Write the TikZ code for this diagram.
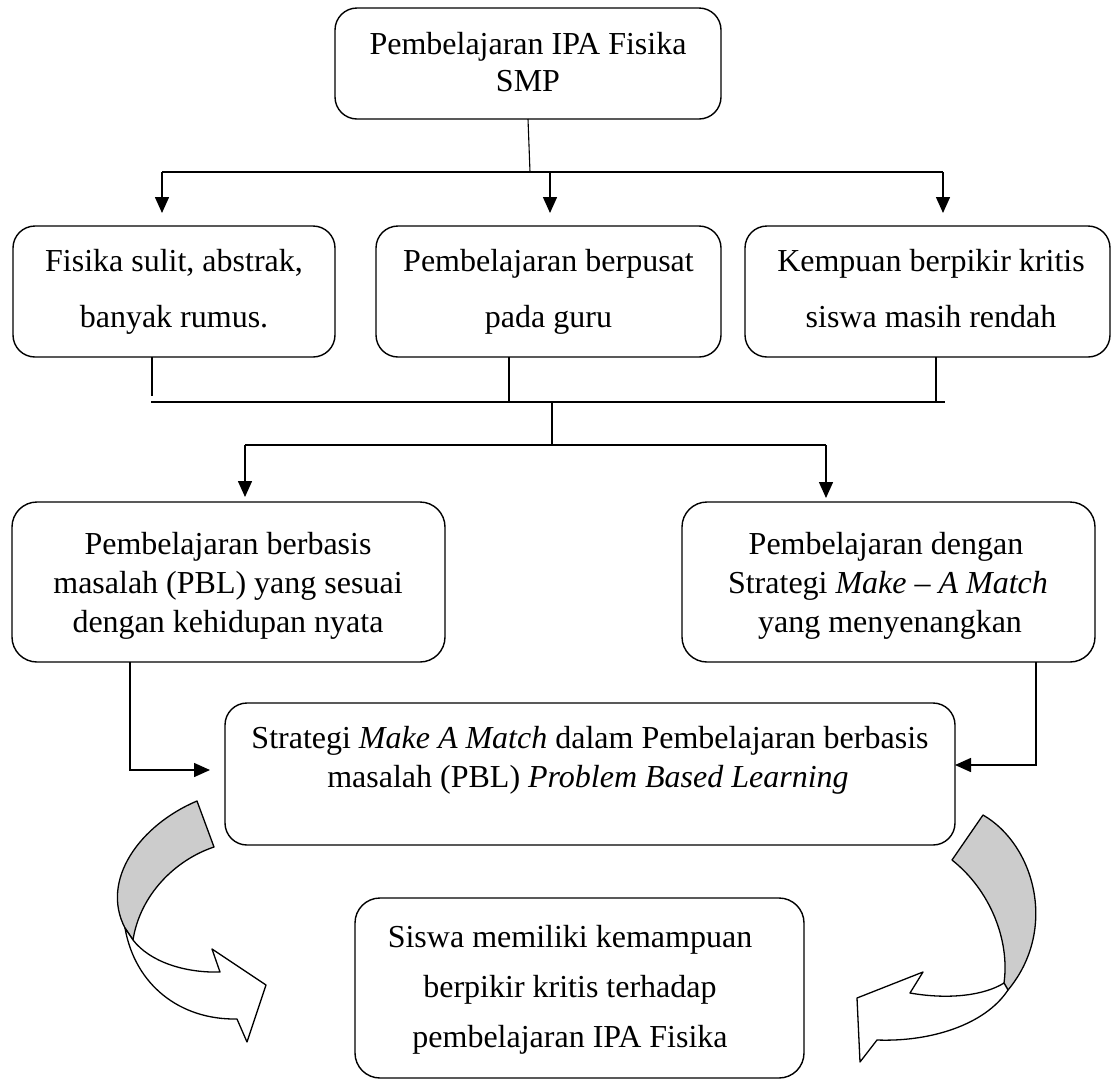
\documentclass[tikz,border=0pt]{standalone}
\usepackage{fontspec}
\setmainfont{Liberation Serif}
\usetikzlibrary{arrows.meta}
\begin{document}
\begin{tikzpicture}[x=1pt,y=-1pt,
  box/.style={draw, line width=1.4pt, rounded corners=22pt, inner sep=0pt, outer sep=0pt},
  txt/.style={anchor=base, inner sep=0pt, font=\fontsize{32}{38}\selectfont},
  con/.style={line width=1.5pt},
  arr/.style={line width=1.5pt, -{Triangle[length=16pt,width=14pt]}},
  ribgray/.style={draw, line width=1.3pt, fill=black!20, line join=round},
  ribwhite/.style={draw, line width=1.3pt, fill=white, line join=round}]
\useasboundingbox (0,0) rectangle (1112,1080);

% boxes
\node[box, minimum width=386pt, minimum height=111pt] (top) at (528,63.5) {};
\node[box, minimum width=322pt, minimum height=131pt] (b1) at (174,291.5) {};
\node[box, minimum width=345pt, minimum height=131pt] (b2) at (548.5,291.5) {};
\node[box, minimum width=365pt, minimum height=131pt] (b3) at (927.5,291.5) {};
\node[box, rounded corners=25pt, minimum width=433pt, minimum height=160pt] (b4) at (228.5,582) {};
\node[box, rounded corners=25pt, minimum width=413pt, minimum height=160pt] (b5) at (888.5,582) {};
\node[box, minimum width=730pt, minimum height=142pt] (b6) at (590,774) {};
\node[box, rounded corners=25pt, minimum width=449pt, minimum height=180pt] (b7) at (579.5,988) {};

% texts
\node[txt] (t0a) at (528,54) {Pembelajaran IPA Fisika};
\node[txt] (t0b) at (528,91) {SMP};
\node[txt] (t1a) at (174,271) {Fisika sulit, abstrak,};
\node[txt] (t1b) at (174,327) {banyak rumus.};
\node[txt] (t2a) at (548.5,271) {Pembelajaran berpusat};
\node[txt] (t2b) at (548.5,327) {pada guru};
\node[txt] (t3a) at (931,271) {Kempuan berpikir kritis};
\node[txt] (t3b) at (931,327) {siswa masih rendah};
\node[txt] (t4a) at (228,554) {Pembelajaran berbasis};
\node[txt] (t4b) at (228,593) {masalah (PBL) yang sesuai};
\node[txt] (t4c) at (228,632) {dengan kehidupan nyata};
\node[txt] (t5a) at (886,554) {Pembelajaran dengan};
\node[txt] (t5b) at (888,593) {Strategi \textit{Make – A Match}};
\node[txt] (t5c) at (890,632) {yang menyenangkan};
\node[txt] (t6a) at (590,748) {Strategi \textit{Make A Match} dalam Pembelajaran berbasis};
\node[txt] (t6b) at (588,787) {masalah (PBL) \textit{Problem Based Learning}};
\node[txt] (t7a) at (570,947) {Siswa memiliki kemampuan};
\node[txt] (t7b) at (570,997) {berpikir kritis terhadap};
\node[txt] (t7c) at (570,1047) {pembelajaran IPA Fisika};

% connectors top level
\coordinate (j1) at (530,172);
\coordinate (hL) at (162,172);
\coordinate (hM) at (550,172);
\coordinate (hR) at (943,172);
\coordinate (a1) at (162,213);
\coordinate (a2) at (550,213);
\coordinate (a3) at (943,213);
\draw[line width=1.1pt] (top.south) -- (j1);
\draw[con] (hL) -- (hR);
\draw[arr] (hL) -- (a1);
\draw[arr] (hM) -- (a2);
\draw[arr] (hR) -- (a3);

% second level
\coordinate (m1) at (152,396);
\coordinate (m2) at (509,402);
\coordinate (m3) at (936,402);
\coordinate (g1) at (151,402);
\coordinate (g2) at (945,402);
\coordinate (n1) at (552,402);
\coordinate (n2) at (552,445);
\coordinate (k1) at (245,445);
\coordinate (k2) at (826,445);
\coordinate (c1) at (245,497);
\coordinate (c2) at (826,498);
\draw[con] (m1 |- b1.south) -- (m1);
\draw[line width=1.1pt] (m2 |- b2.south) -- (m2);
\draw[con] (m3 |- b3.south) -- (m3);
\draw[line width=2.2pt] (g1) -- (g2);
\draw[line width=1.1pt] (n1) -- (n2);
\draw[con] (k1) -- (k2);
\draw[arr] (k1) -- (c1);
\draw[arr] (k2) -- (c2);

% third level
\coordinate (p1) at (130,770);
\coordinate (p2) at (210,770);
\coordinate (q1) at (1036,765);
\draw[arr] (p1 |- b4.south) -- (p1) -- (p2);
\draw[arr] (q1 |- b5.south) -- (q1) -- (b6.east |- q1);

% left curved arrow
\draw[ribgray] (197,801) .. controls (140,825) and (100,880) .. (125,928)
  -- (133,940) .. controls (140,895) and (175,860) .. (214,847) -- cycle;
\draw[ribwhite] (133,940) .. controls (150,962) and (185,973) .. (220,972)
  -- (212,949) -- (266,985) -- (247,1042) -- (237,1019)
  .. controls (180,1020) and (135,985) .. (125,928) -- cycle;

% right curved arrow
\draw[ribgray] (983,815) .. controls (1035,845) and (1058,930) .. (1008,990)
  -- (1004,983) .. controls (1010,940) and (990,890) .. (952,860) -- cycle;
\draw[ribwhite] (1004,983) .. controls (985,995) and (950,1000) .. (910,993)
  -- (923,972) -- (857,998) -- (860,1062) -- (877,1040)
  .. controls (930,1042) and (985,1025) .. (1008,990) -- cycle;
\end{tikzpicture}
\end{document}
